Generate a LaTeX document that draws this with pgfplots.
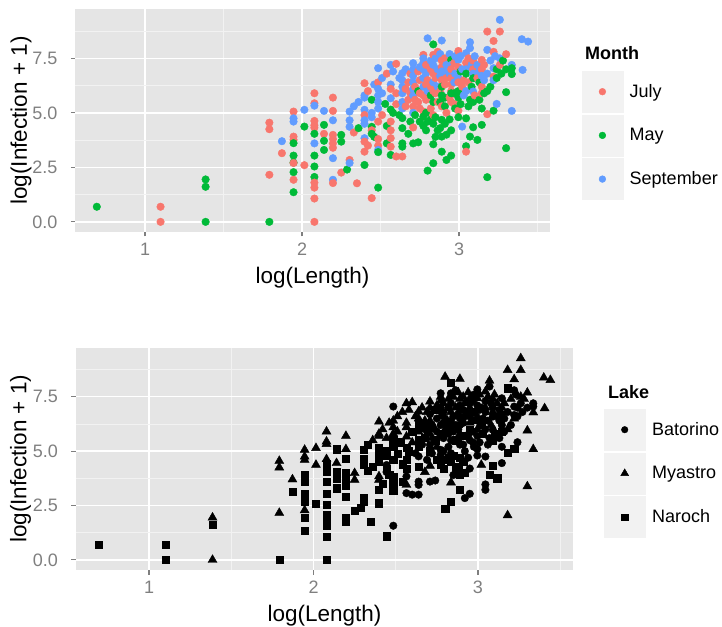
\documentclass[border=0pt]{standalone}
\usepackage{pgfplots}
\pgfplotsset{compat=1.18}
\usepackage{pgfplotstable}
\usepackage{fontspec}
\setmainfont{Liberation Sans}
\definecolor{cJ}{HTML}{F8766D}
\definecolor{cM}{HTML}{00BA38}
\definecolor{cS}{HTML}{619CFF}
\definecolor{panel}{HTML}{E5E5E5}
\definecolor{keybg}{HTML}{F2F2F2}
\definecolor{minorg}{HTML}{F2F2F2}
\definecolor{tickc}{HTML}{7F7F7F}

\pgfplotstableread{
x y m l
0.693 0.693 M N
1.099 0.693 J N
1.099 0.000 J N
1.386 1.946 M Y
1.386 1.609 M N
1.386 0.000 M Y
1.792 4.55 J Y
1.792 4.25 J Y
1.792 2.16 J Y
1.792 0.00 M N
1.872 3.70 S Y
1.872 3.15 J N
1.946 5.06 J Y
1.946 4.75 S Y
1.946 4.60 S Y
1.946 3.91 J N
1.946 3.76 J N
1.946 3.61 M N
1.946 3.04 M N
1.946 2.72 M N
1.946 2.70 J N
1.946 2.28 M Y
1.946 1.93 J N
1.946 1.36 M N
2.015 5.14 S Y
2.015 4.37 M Y
2.015 2.60 J N
2.079 5.90 J Y
2.079 5.44 J Y
2.079 5.33 S Y
2.079 4.63 J Y
2.079 4.43 J N
2.079 4.32 J N
2.079 4.04 M N
2.079 3.60 S N
2.079 3.04 M N
2.079 2.54 M N
2.079 2.06 M N
2.079 1.80 J N
2.079 1.57 J N
2.079 1.07 J N
2.079 0.00 J N
2.140 5.09 S N
2.140 4.45 M Y
2.140 4.04 J N
2.140 3.72 M N
2.140 3.30 M N
2.197 5.70 J Y
2.197 5.09 J Y
2.197 4.66 S N
2.197 3.99 J N
2.197 3.80 J N
2.197 3.60 J N
2.197 3.40 J N
2.197 2.92 S N
2.197 1.93 S N
2.197 1.78 J N
2.250 3.99 M Y
2.250 3.68 M Y
2.250 2.26 J N
2.287 2.40 M N
2.303 5.06 S N
2.303 4.66 S N
2.303 4.36 S N
2.303 2.84 J N
2.303 2.70 S N
2.330 5.30 S N
2.330 4.10 J N
2.350 1.77 J N
2.360 5.50 S Y
2.360 4.30 M N
2.398 6.36 J Y
2.398 5.80 S Y
2.398 5.70 S Y
2.398 5.14 S N
2.398 4.90 J N
2.398 4.66 S N
2.398 4.50 S N
2.398 3.84 S Y
2.398 3.68 J Y
2.398 3.22 J N
2.398 2.61 M N
2.420 6.00 J Y
2.420 3.50 J N
2.444 5.60 M Y
2.444 5.00 S N
2.444 4.80 S N
2.444 4.36 M B
2.444 4.20 J N
2.444 4.04 M B
2.444 1.09 J N
2.460 6.30 S Y
2.460 3.90 M N
2.485 7.05 S B
2.485 6.40 J Y
2.485 6.10 S Y
2.485 5.80 S Y
2.485 5.50 S N
2.485 5.20 S N
2.485 4.60 J N
2.485 3.80 J N
2.485 3.50 J N
2.485 3.30 S N
2.485 3.20 M N
2.485 1.57 M B
2.510 6.60 S Y
2.510 5.90 S Y
2.510 4.90 J N
2.530 5.41 M N
2.540 6.80 J Y
2.540 4.40 M N
2.540 3.60 M N
2.565 7.20 S Y
2.565 6.30 S Y
2.565 6.10 J Y
2.565 5.67 S Y
2.565 5.15 M N
2.565 4.60 J N
2.565 4.20 J N
2.565 3.84 J B
2.565 3.45 J Y
2.565 3.07 M B
2.580 6.90 S Y
2.580 5.00 M N
2.600 7.25 J Y
2.600 5.90 J N
2.600 5.40 J Y
2.600 3.00 J B
2.620 6.60 S Y
2.620 4.90 M B
2.639 6.82 S Y
2.639 6.50 S Y
2.639 6.20 S N
2.639 5.90 S Y
2.639 5.50 S N
2.639 5.20 S N
2.639 4.76 M B
2.639 4.30 M N
2.639 3.60 M B
2.639 3.45 M B
2.639 3.00 J B
2.660 7.00 S Y
2.660 6.10 J N
2.660 5.30 J B
2.677 4.04 M Y
2.677 6.40 J Y
2.677 5.60 J N
2.690 6.80 J Y
2.690 5.90 J B
2.690 4.60 M B
2.708 7.28 S Y
2.708 7.00 S Y
2.708 6.70 S B
2.708 6.40 S Y
2.708 6.10 S N
2.708 5.80 S Y
2.708 5.29 J B
2.708 5.00 S N
2.708 4.33 J Y
2.708 3.60 M B
2.720 6.20 J B
2.720 5.60 J Y
2.720 4.90 M B
2.740 3.65 M B
2.740 6.00 M Y
2.740 6.90 J N
2.740 5.50 J N
2.750 7.10 S Y
2.750 6.50 J B
2.750 5.90 J B
2.750 5.20 J Y
2.750 4.60 M N
2.773 7.66 J B
2.773 7.50 S Y
2.773 7.30 S Y
2.773 7.00 S B
2.773 6.60 S Y
2.773 6.20 S B
2.773 5.80 J N
2.773 5.06 J B
2.773 4.83 M B
2.773 4.40 M N
2.790 7.20 J Y
2.790 6.80 S B
2.790 6.30 J B
2.790 5.60 J B
2.790 5.00 M B
2.790 4.20 M N
2.800 8.42 S Y
2.800 6.50 J B
2.800 6.00 S Y
2.800 4.60 M N
2.800 2.35 M N
2.820 7.40 S Y
2.820 7.00 J B
2.820 6.20 J N
2.820 5.80 M B
2.820 5.20 J B
2.820 4.70 M N
2.836 8.14 M N
2.836 7.66 J B
2.836 7.20 S B
2.836 6.80 J Y
2.836 6.40 S B
2.836 6.00 J Y
2.836 5.50 M B
2.836 4.90 J B
2.836 4.50 M N
2.836 3.56 M Y
2.836 2.69 M N
2.850 7.50 S Y
2.850 6.60 J B
2.850 5.90 J B
2.850 4.80 M N
2.850 3.90 M B
2.864 7.80 J B
2.864 7.00 S Y
2.864 6.20 S B
2.864 5.50 J N
2.864 4.20 M N
2.880 7.70 S Y
2.880 6.70 S B
2.880 6.00 J B
2.880 5.50 M B
2.880 4.30 M N
2.890 8.32 S Y
2.890 7.40 J Y
2.890 7.10 J B
2.890 6.90 S Y
2.890 6.50 J B
2.890 6.20 M B
2.890 5.80 M Y
2.890 5.30 J B
2.890 4.68 M N
2.890 3.91 M N
2.890 3.22 M N
2.910 7.50 J Y
2.910 6.90 S B
2.910 6.30 J B
2.910 5.70 M N
2.910 5.30 M B
2.910 4.50 M N
2.920 7.20 S Y
2.920 6.60 J B
2.920 5.00 J B
2.920 4.00 M N
2.920 2.84 M B
2.940 7.70 S Y
2.940 6.80 S B
2.940 5.70 J B
2.940 4.70 M B
2.950 7.43 M Y
2.950 7.20 S B
2.950 7.00 J Y
2.950 6.60 J B
2.950 6.30 J Y
2.950 6.00 J N
2.950 5.90 M B
2.950 5.50 J B
2.950 4.20 M B
2.950 3.04 M B
2.970 7.30 J B
2.970 6.40 S B
2.970 5.90 M B
2.970 5.40 J B
2.975 7.60 S B
2.975 6.80 S N
2.975 5.20 M B
2.996 7.84 J B
2.996 7.43 S Y
2.996 7.10 J B
2.996 6.60 S Y
2.996 6.40 J B
2.996 6.00 M Y
2.996 5.70 M B
2.996 5.10 J B
2.996 4.80 M B
3.010 7.60 S Y
3.010 6.90 M B
3.010 5.40 M B
3.020 7.00 S B
3.020 6.20 J N
3.020 4.37 S Y
3.030 6.50 J B
3.030 5.80 S N
3.045 7.74 S Y
3.045 7.30 J B
3.045 7.00 S Y
3.045 6.80 M B
3.045 6.00 S B
3.045 4.75 M B
3.045 3.47 M B
3.045 3.22 J B
3.060 7.50 J Y
3.060 6.40 J B
3.060 5.30 M B
3.070 8.24 S Y
3.070 7.97 S B
3.070 5.60 M B
3.070 3.91 M N
3.080 7.20 S B
3.080 6.20 M Y
3.090 7.40 J Y
3.090 7.00 J B
3.090 6.80 S Y
3.090 6.59 M B
3.090 5.98 S B
3.090 5.50 M N
3.090 4.34 M N
3.100 7.60 S Y
3.100 5.80 J N
3.117 7.20 S Y
3.117 6.60 J B
3.117 3.76 M N
3.130 6.90 S B
3.130 6.40 M B
3.130 5.60 M B
3.145 7.43 J B
3.145 7.00 J Y
3.145 6.70 S B
3.145 6.20 J B
3.145 5.90 J N
3.145 5.20 M B
3.145 4.45 M B
3.160 7.20 J Y
3.160 6.50 S B
3.160 5.90 M B
3.180 8.73 J Y
3.180 7.89 S N
3.180 6.80 S B
3.180 6.00 M Y
3.180 4.94 J N
3.180 2.05 M Y
3.200 7.40 S Y
3.200 6.20 M B
3.220 8.30 J Y
3.220 7.80 J B
3.220 7.05 S B
3.220 6.66 J B
3.220 6.50 S Y
3.220 5.10 M N
3.230 7.60 S B
3.240 7.00 M B
3.240 6.60 M B
3.240 5.41 S B
3.260 9.27 S Y
3.260 8.73 J Y
3.260 7.50 S Y
3.260 7.20 J B
3.270 6.80 M B
3.280 7.40 M Y
3.300 7.69 J Y
3.300 7.00 M B
3.300 5.95 M Y
3.300 3.38 M Y
3.336 7.20 S B
3.336 7.05 M B
3.336 6.78 M Y
3.336 5.09 S Y
3.400 8.38 S Y
3.405 6.97 S Y
3.440 8.27 S Y
}\data

\pgfplotsset{
  ggkey/.style={legend image code/.code={%
      \fill[keybg] (0bp,-20.5bp) rectangle (41bp,20.5bp);
      \draw[##1] plot coordinates {(20.5bp,0bp)};}},
  ggbase/.style={
    scale only axis,
    xmin=0.556, xmax=3.577, ymin=-0.465, ymax=9.765,
    axis background/.style={fill=panel},
    axis line style={draw=none},
    xtick={1,2,3}, xticklabels={1,2,3},
    ytick={0,2.5,5,7.5}, yticklabels={0.0,2.5,5.0,7.5},
    minor xtick={0.5,1.5,2.5,3.5},
    minor ytick={1.25,3.75,6.25,8.75},
    grid=both,
    major grid style={white, line width=1.4bp},
    minor grid style={minorg, line width=0.7bp},
    tick align=outside,
    tick pos=left,
    major tick length=4.5bp,
    minor tick length=0pt,
    tick style={tickc, line width=1.2bp},
    ticklabel style={font=\fontsize{18bp}{20bp}\selectfont, text=tickc},
    xticklabel style={anchor=north, inner sep=0pt, yshift=-6.5bp},
    yticklabel style={anchor=east, inner sep=0pt, xshift=-13.3bp},
    label style={font=\fontsize{22.5bp}{26bp}\selectfont},
    xlabel={log(Length)},
    ylabel={log(Infection + 1)},
    xlabel style={at={(axis description cs:0.5,-0.206)}, anchor=center},
    legend style={draw=none, fill=none, inner sep=0pt, outer sep=0pt,
      anchor=north west, font=\fontsize{18bp}{20bp}\selectfont,
      row sep=2.3bp, column sep=6.6bp, cells={anchor=west},
      nodes={inner sep=0pt}},
  }
}

\begin{document}
\begin{tikzpicture}
\useasboundingbox (0,0) rectangle (722bp,627bp);

\begin{axis}[ggbase,
  at={(75.3bp,395bp)}, anchor=south west,
  width=474.3bp, height=223bp,
  ylabel style={at={(axis description cs:-0.1145,0.5)}, anchor=center},
  legend style={at={(axis description cs:1.0677,0.722)}}]
\addplot[scatter, only marks, scatter src=explicit symbolic,
  scatter/classes={
    J={mark=*, cJ, mark size=3.8bp},
    M={mark=*, cM, mark size=3.8bp},
    S={mark=*, cS, mark size=3.8bp}},
  forget plot] table[x=x, y=y, meta=m]{\data};
\addlegendimage{ggkey, mark=*, cJ, mark size=3.4bp}
\addlegendentry{July}
\addlegendimage{ggkey, mark=*, cM, mark size=3.4bp}
\addlegendentry{May}
\addlegendimage{ggkey, mark=*, cS, mark size=3.4bp}
\addlegendentry{September}
\end{axis}

\begin{axis}[ggbase,
  at={(76bp,57bp)}, anchor=south west,
  width=496.9bp, height=222.5bp,
  ylabel style={at={(axis description cs:-0.1115,0.5)}, anchor=center},
  legend style={at={(axis description cs:1.0626,0.7236)}}]
\addplot[scatter, only marks, scatter src=explicit symbolic,
  scatter/classes={
    B={mark=*, black, mark size=3.8bp},
    Y={mark=triangle*, black, mark size=5.2bp},
    N={mark=square*, black, mark size=3.6bp}},
  forget plot] table[x=x, y=y, meta=l]{\data};
\addlegendimage{ggkey, mark=*, black, mark size=3.3bp}
\addlegendentry{Batorino}
\addlegendimage{ggkey, mark=triangle*, black, mark size=4.6bp}
\addlegendentry{Myastro}
\addlegendimage{ggkey, mark=square*, black, mark size=3.1bp}
\addlegendentry{Naroch}
\end{axis}

\node[anchor=base west, font=\bfseries\fontsize{18bp}{20bp}\selectfont] at (581.7bp,567bp) {Month};
\node[anchor=base west, font=\bfseries\fontsize{18bp}{20bp}\selectfont] at (604.5bp,228.7bp) {Lake};
\end{tikzpicture}
\end{document}
